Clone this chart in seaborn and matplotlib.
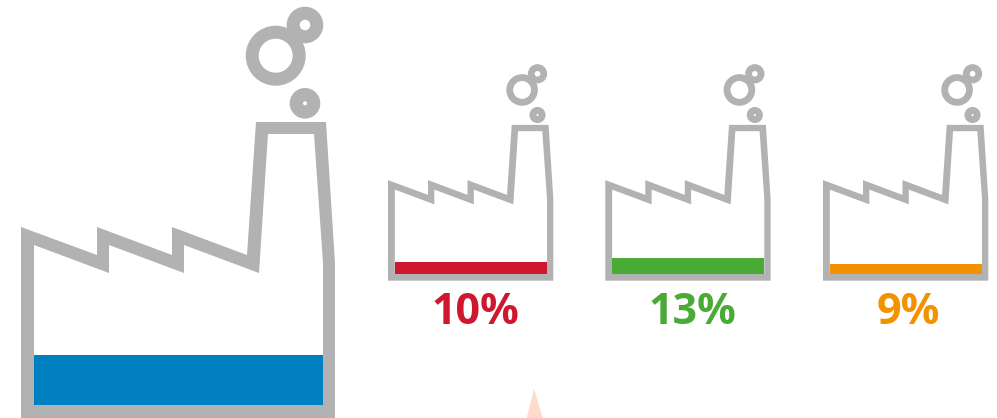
import matplotlib
matplotlib.use("Agg")
import matplotlib.pyplot as plt
from matplotlib.patches import Circle, Polygon
import seaborn as sns

sns.set_theme(style="white")
plt.rcParams["font.family"] = ["Open Sans", "DejaVu Sans"]

# values
factories = ["total", "red", "green", "orange"]
labels = ["", "10%", "13%", "9%"]
# fill level as % of the wall height of each factory
fill_levels = [31.2, 13.5, 19.4, 11.9]
colors = ["#0080c1", "#cf1830", "#49ab35", "#f39200"]

GREY = "#b2b2b2"
W, H = 997, 418

# factory icon, in the pixels of the big one
outer = [(21, 227), (97, 255), (97, 227), (172, 255), (172, 227), (247, 255), (256, 122),
         (326, 122), (335, 263), (335, 418), (21, 418)]
inner = [(34, 245), (109, 273), (109, 245), (184, 273), (184, 245), (259, 273), (268, 134),
         (314, 134), (323, 263), (323, 405), (34, 405)]
rings = [(275.7, 55.7, 30, 17), (305, 25, 18.3, 5.3), (305, 103.3, 15.3, 2)]

# left edge, bottom edge and scale of each icon on the canvas
places = [(21, 418, 1), (388, 280.7, 0.5265), (605.3, 280.7, 0.5265), (823, 280.7, 0.5265)]
label_x = [0, 475, 692.5, 908.8]
label_y = 323.7

fig = plt.figure(figsize=(W / 100, H / 100), dpi=100, facecolor="white")
bg = fig.add_axes([0, 0, 1, 1])
bg.set_xlim(0, W)
bg.set_ylim(H, 0)
bg.axis("off")

# the pale triangle at the bottom edge
bg.add_patch(Polygon([(534, 389), (526.7, 418), (542.7, 418)], color="#fcdcc8", lw=0))


def move(x, y, place):
    x0, y0, s = place
    return x0 + (x - 21) * s, y0 - (418 - y) * s


for name, label, level, color, place, lx in zip(factories, labels, fill_levels, colors, places, label_x):
    s = place[2]
    bg.add_patch(Polygon([move(x, y, place) for x, y in outer], color=GREY, lw=0))
    bg.add_patch(Polygon([move(x, y, place) for x, y in inner], color="white", lw=0))
    for cx, cy, r, _ in rings:
        bg.add_patch(Circle(move(cx, cy, place), r * s, color=GREY, lw=0))
    for cx, cy, _, r in rings:
        bg.add_patch(Circle(move(cx, cy, place), r * s, color="white", lw=0))

    # axes covers the inside of the wall, 0-100 from floor to roof peak
    left, bottom = move(34, 405, place)
    right, top = move(323, 245, place)
    ax = fig.add_axes([left / W, 1 - bottom / H, (right - left) / W, (bottom - top) / H])
    sns.barplot(x=[name], y=[level], color=color, width=1, saturation=1, linewidth=0, ax=ax)
    ax.set_xlim(-0.5, 0.5)
    ax.set_ylim(0, 100)
    ax.axis("off")
    ax.patch.set_alpha(0)

    if label:
        bg.text(lx, label_y, label, color=color, fontsize=31, fontweight="bold",
                ha="center", va="baseline")

fig.savefig("out.png", dpi=100)
